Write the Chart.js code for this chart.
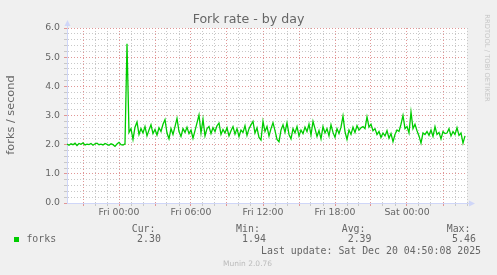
<!DOCTYPE html>
<html>
<head>
<meta charset="utf-8">
<title>Fork rate - by day</title>
<script src="https://cdn.jsdelivr.net/npm/chart.js@4.4.1/dist/chart.umd.min.js"></script>
<style>
html, body { margin: 0; padding: 0; background: #f0f0f0; }
#wrap { position: relative; width: 497px; height: 275px; overflow: hidden; font-family: 'DejaVu Sans', sans-serif; color: #666; }
#wrap canvas { position: absolute; left: 0; top: 0; }
.t { position: absolute; white-space: pre; }
.mono { font-family: 'DejaVu Sans Mono', monospace; font-size: 9.9px; line-height: 12px; }
</style>
</head>
<body>
<div id="wrap">
  <canvas id="forkChart" width="497" height="275"></canvas>
  <div class="t" id="title" style="left:0;top:11px;width:497px;text-align:center;font-size:12.6px;line-height:16px;">Fork rate - by day</div>
  <div class="t" style="left:-49px;top:108px;width:120px;text-align:center;font-size:11.3px;line-height:14px;transform:rotate(-90deg);">forks / second</div>
  <div class="t" style="left:437px;top:54px;width:100px;text-align:center;font-size:6.8px;line-height:8px;color:#c8c8c8;transform:rotate(90deg);">RRDTOOL / TOBI OETIKER</div>
  <div id="legend"></div>
  <div class="t" style="left:223px;top:259px;font-size:7.5px;line-height:10px;color:#bbb;">Munin 2.0.76</div>
</div>
<script>
// time axis: hours relative to Fri 00:00, one sample every 10 minutes
const startHour = -4 - 20 / 60;
const stepHours = 10 / 60;
const axisMin = -4 - 20 / 60;
const axisMax = 29;

const tickHours = [0, 6, 12, 18, 24];
const tickLabels = ['Fri 00:00', 'Fri 06:00', 'Fri 12:00', 'Fri 18:00', 'Sat 00:00'];

const forkRate = [
  2.02, 1.98, 2.03, 2.00, 2.05, 1.97, 2.04, 2.01, 2.06, 1.99,
  2.02, 2.00, 2.04, 1.98, 2.03, 2.05, 2.00, 2.02, 1.99, 2.04,
  2.01, 1.98, 2.03, 2.00, 1.94, 2.02, 2.08, 2.00, 1.99, 2.03,
  5.46, 2.42, 2.55, 2.18, 2.60, 2.78, 2.35, 2.55, 2.40, 2.62,
  2.30, 2.50, 2.68, 2.38, 2.52, 2.33, 2.58, 2.45, 2.70, 2.86,
  2.40, 2.20, 2.55, 2.35, 2.62, 2.90, 2.45, 2.28, 2.55, 2.42,
  2.60, 2.38, 2.50, 2.22, 2.48, 2.75, 3.02, 2.40, 2.87, 2.30,
  2.55, 2.62, 2.38, 2.58, 2.45, 2.65, 2.74, 2.35, 2.52, 2.40,
  2.58, 2.30, 2.48, 2.62, 2.36, 2.55, 2.28, 2.50, 2.42, 2.65,
  2.32, 2.55, 2.68, 2.80, 2.40, 2.58, 2.25, 2.16, 2.80, 2.45,
  2.62, 2.30, 2.55, 2.75, 2.48, 2.18, 2.10, 2.50, 2.68, 2.42,
  2.75, 2.35, 2.20, 2.55, 2.40, 2.62, 2.30, 2.50, 2.38, 2.60,
  2.45, 2.70, 2.33, 2.80, 2.55, 2.28, 2.48, 2.20, 2.62, 2.40,
  2.55, 2.30, 2.68, 2.42, 2.25, 2.55, 2.38, 2.60, 2.98, 2.45,
  2.18, 2.50, 2.35, 2.60, 2.42, 2.65, 2.50, 2.58, 2.62, 2.55,
  2.95, 2.60, 2.70, 2.48, 2.55, 2.35, 2.45, 2.25, 2.40, 2.30,
  2.48, 2.22, 2.38, 2.10, 2.35, 2.50, 2.45, 2.70, 3.00, 2.55,
  2.62, 2.40, 3.12, 2.55, 2.70, 2.48, 2.30, 2.05, 2.40, 2.35,
  2.45, 2.32, 2.50, 2.28, 2.62, 2.35, 2.42, 2.20, 2.45, 2.38,
  2.40, 2.55, 2.30, 2.45, 2.35, 2.58, 2.32, 2.40, 2.05, 2.30
];

const statNames = ['Cur:', 'Min:', 'Avg:', 'Max:'];
const statValues = ['2.30', '1.94', '2.39', '5.46'];
const lastUpdate = 'Last update: Sat Dec 20 04:50:08 2025';

const lineColor = '#00cc00';
const axisColor = '#cfd6f8';
const minorGrid = 'rgb(200,200,200)';
const majorGrid = 'rgb(225,150,150)';

// legend block under the plot (munin style)
var legend = document.getElementById('legend');
var html = '<div style="position:absolute;left:14px;top:237px;width:5px;height:5px;background:' + lineColor + ';"></div>';
html += '<div class="t mono" style="left:26.4px;top:233px;">forks</div>';
var nameX = [131.7, 236.1, 341.7, 446.7];
var valX = [137.1, 242.1, 347.7, 452.1];
for (let i = 0; i < statNames.length; i++) {
    html += '<div class="t mono" style="left:' + nameX[i] + 'px;top:222.5px;">' + statNames[i] + '</div>';
    html += '<div class="t mono" style="left:' + valX[i] + 'px;top:233.3px;">' + statValues[i] + '</div>';
}
html += '<div class="t mono" style="left:261.1px;top:245px;">' + lastUpdate + '</div>';
legend.innerHTML = html;

var points = forkRate.map(function (v, i) {
    return { x: startHour + i * stepHours, y: v };
});

function isWhole(v) {
    return Math.abs(v - Math.round(v)) < 1e-6;
}

// white canvas behind the plot, axis arrows on top
var munin = {
    id: 'munin',
    beforeDraw: function (chart) {
        var a = chart.chartArea, c = chart.ctx;
        c.save();
        c.fillStyle = '#ffffff';
        c.fillRect(a.left, a.top, a.right - a.left, a.bottom - a.top);
        c.restore();
    },
    afterDraw: function (chart) {
        var a = chart.chartArea, c = chart.ctx;
        var x0 = Math.round(a.left) + 0.5, y0 = Math.round(a.bottom) + 0.5;
        c.save();
        c.strokeStyle = axisColor;
        c.fillStyle = axisColor;
        c.lineWidth = 1;
        c.beginPath();
        c.moveTo(x0, a.top);
        c.lineTo(x0, a.top - 3);
        c.moveTo(a.right, y0);
        c.lineTo(a.right + 3, y0);
        c.stroke();
        c.beginPath();
        c.moveTo(x0, a.top - 8);
        c.lineTo(x0 - 3, a.top - 2);
        c.lineTo(x0 + 3, a.top - 2);
        c.closePath();
        c.fill();
        c.beginPath();
        c.moveTo(a.right + 8, y0);
        c.lineTo(a.right + 2, y0 - 3);
        c.lineTo(a.right + 2, y0 + 3);
        c.closePath();
        c.fill();
        c.restore();
    }
};

new Chart(document.getElementById('forkChart'), {
    type: 'line',
    data: {
        datasets: [{
            label: 'forks',
            data: points,
            borderColor: lineColor,
            borderWidth: 1.3,
            pointRadius: 0,
            tension: 0,
            fill: false
        }]
    },
    options: {
        responsive: false,
        animation: false,
        layout: { padding: { top: 28, right: 30, bottom: 0, left: 0 } },
        plugins: {
            legend: { display: false },
            tooltip: { enabled: false },
            title: { display: false }
        },
        scales: {
            x: {
                type: 'linear',
                min: axisMin,
                max: axisMax,
                afterFit: function (s) { s.height = 72; },
                border: { color: axisColor, width: 1, dash: [1, 2] },
                grid: {
                    tickLength: 3,
                    color: function (c) {
                        var v = c.tick ? c.tick.value : 0;
                        if (!isWhole(v) || Math.abs(v - axisMin) < 1e-6) return 'rgba(0,0,0,0)';
                        return (Math.round(v) % 3 === 0) ? majorGrid : minorGrid;
                    },
                    tickColor: function (c) {
                        var v = c.tick ? c.tick.value : 0;
                        if (!isWhole(v)) return 'rgba(0,0,0,0)';
                        return (Math.round(v) % 3 === 0) ? majorGrid : minorGrid;
                    }
                },
                ticks: {
                    stepSize: 1,
                    autoSkip: false,
                    maxRotation: 0,
                    padding: 1,
                    color: '#666',
                    font: { family: 'DejaVu Sans', size: 9.33 },
                    callback: function (v) {
                        var k = tickHours.indexOf(Math.round(v));
                        return (isWhole(v) && k >= 0) ? tickLabels[k] : '';
                    }
                }
            },
            y: {
                min: 0,
                max: 6,
                afterFit: function (s) { s.width = 67; },
                border: { color: axisColor, width: 1, dash: [1, 2] },
                grid: {
                    tickLength: 3,
                    color: function (c) {
                        var v = c.tick ? c.tick.value : 0;
                        if (v < 1e-6) return 'rgba(0,0,0,0)';
                        return isWhole(v) ? majorGrid : minorGrid;
                    },
                    tickColor: function (c) {
                        var v = c.tick ? c.tick.value : 0;
                        return isWhole(v) ? majorGrid : minorGrid;
                    }
                },
                ticks: {
                    stepSize: 0.2,
                    autoSkip: false,
                    padding: 4,
                    color: '#666',
                    font: { family: 'DejaVu Sans', size: 9.33 },
                    callback: function (v) {
                        return isWhole(v) ? v.toFixed(1) : '';
                    }
                }
            }
        }
    },
    plugins: [munin]
});
</script>
</body>
</html>
